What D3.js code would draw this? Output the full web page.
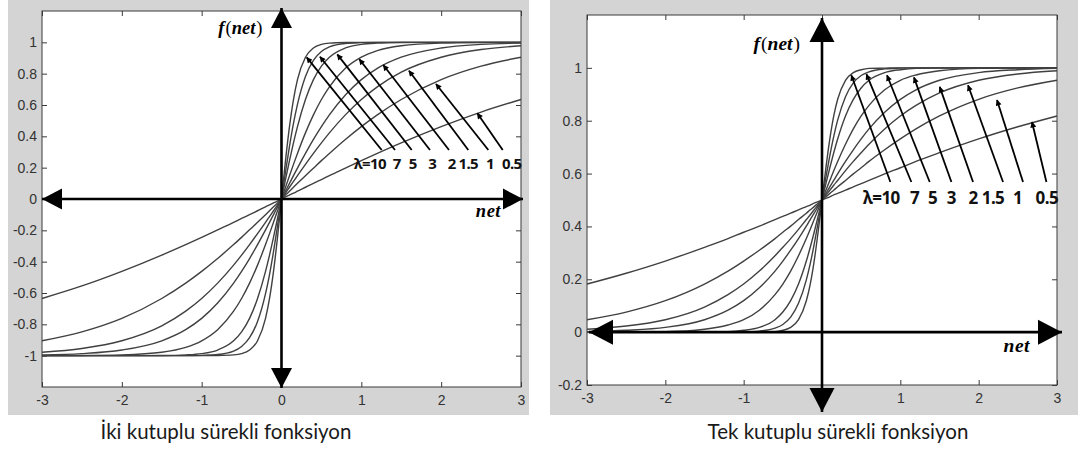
<!DOCTYPE html>
<html><head><meta charset="utf-8">
<script src="https://cdn.jsdelivr.net/npm/d3@7"></script>
<style>body{margin:0;background:#fff}svg{display:block}</style>
</head><body>
<svg id="c" width="1080" height="453"></svg>
<script>
// ---------------- data ----------------
const netValues = [-3,-2.5,-2,-1.5,-1.2,-1,-0.8,-0.6,-0.5,-0.4,-0.3,-0.2,-0.15,-0.1,-0.05,0,0.05,0.1,0.15,0.2,0.3,0.4,0.5,0.6,0.8,1,1.2,1.5,2,2.5,3];
const lambdaLabels = ["λ=10","7","5","3","2","1.5","1","0.5"];

const bipolar10 = [-1,-1,-1,-1,-1,-1,-0.999,-0.995,-0.987,-0.964,-0.905,-0.762,-0.635,-0.462,-0.245,0,0.245,0.462,0.635,0.762,0.905,0.964,0.987,0.995,0.999,1,1,1,1,1,1];
const bipolar7 = [-1,-1,-1,-1,-1,-0.998,-0.993,-0.971,-0.941,-0.885,-0.782,-0.604,-0.482,-0.336,-0.173,0,0.173,0.336,0.482,0.604,0.782,0.885,0.941,0.971,0.993,0.998,1,1,1,1,1];
const bipolar5 = [-1,-1,-1,-0.999,-0.995,-0.987,-0.964,-0.905,-0.848,-0.762,-0.635,-0.462,-0.358,-0.245,-0.124,0,0.124,0.245,0.358,0.462,0.635,0.762,0.848,0.905,0.964,0.987,0.995,0.999,1,1,1];
const bipolar3 = [-1,-0.999,-0.995,-0.978,-0.947,-0.905,-0.834,-0.716,-0.635,-0.537,-0.422,-0.291,-0.221,-0.149,-0.075,0,0.075,0.149,0.221,0.291,0.422,0.537,0.635,0.716,0.834,0.905,0.947,0.978,0.995,0.999,1];
const bipolar2 = [-0.995,-0.987,-0.964,-0.905,-0.834,-0.762,-0.664,-0.537,-0.462,-0.380,-0.291,-0.197,-0.149,-0.100,-0.050,0,0.050,0.100,0.149,0.197,0.291,0.380,0.462,0.537,0.664,0.762,0.834,0.905,0.964,0.987,0.995];
const bipolar15 = [-0.978,-0.954,-0.905,-0.810,-0.716,-0.635,-0.537,-0.422,-0.358,-0.291,-0.221,-0.149,-0.112,-0.075,-0.037,0,0.037,0.075,0.112,0.149,0.221,0.291,0.358,0.422,0.537,0.635,0.716,0.810,0.905,0.954,0.978];
const bipolar1 = [-0.905,-0.848,-0.762,-0.635,-0.537,-0.462,-0.380,-0.291,-0.245,-0.197,-0.149,-0.100,-0.075,-0.050,-0.025,0,0.025,0.050,0.075,0.100,0.149,0.197,0.245,0.291,0.380,0.462,0.537,0.635,0.762,0.848,0.905];
const bipolar05 = [-0.635,-0.555,-0.462,-0.358,-0.291,-0.245,-0.197,-0.149,-0.124,-0.100,-0.075,-0.050,-0.037,-0.025,-0.013,0,0.013,0.025,0.037,0.050,0.075,0.100,0.124,0.149,0.197,0.245,0.291,0.358,0.462,0.555,0.635];

const unipolar10 = [0,0,0,0,0,0,0.001,0.002,0.007,0.018,0.047,0.119,0.182,0.269,0.378,0.5,0.622,0.731,0.818,0.881,0.953,0.982,0.993,0.998,0.999,1,1,1,1,1,1];
const unipolar7 = [0,0,0,0,0,0.001,0.004,0.015,0.029,0.057,0.109,0.198,0.259,0.332,0.413,0.5,0.587,0.668,0.741,0.802,0.891,0.943,0.971,0.985,0.996,0.999,1,1,1,1,1];
const unipolar5 = [0,0,0,0.001,0.002,0.007,0.018,0.047,0.076,0.119,0.182,0.269,0.321,0.378,0.438,0.5,0.562,0.622,0.679,0.731,0.818,0.881,0.924,0.953,0.982,0.993,0.998,0.999,1,1,1];
const unipolar3 = [0,0.001,0.002,0.011,0.027,0.047,0.083,0.142,0.182,0.231,0.289,0.354,0.389,0.426,0.463,0.5,0.537,0.574,0.611,0.646,0.711,0.769,0.818,0.858,0.917,0.953,0.973,0.989,0.998,0.999,1];
const unipolar2 = [0.002,0.007,0.018,0.047,0.083,0.119,0.168,0.231,0.269,0.310,0.354,0.401,0.426,0.450,0.475,0.5,0.525,0.550,0.574,0.599,0.646,0.690,0.731,0.769,0.832,0.881,0.917,0.953,0.982,0.993,0.998];
const unipolar15 = [0.011,0.023,0.047,0.095,0.142,0.182,0.231,0.289,0.321,0.354,0.389,0.426,0.444,0.463,0.481,0.5,0.519,0.537,0.556,0.574,0.611,0.646,0.679,0.711,0.769,0.818,0.858,0.905,0.953,0.977,0.989];
const unipolar1 = [0.047,0.076,0.119,0.182,0.231,0.269,0.310,0.354,0.378,0.401,0.426,0.450,0.463,0.475,0.488,0.5,0.512,0.525,0.537,0.550,0.574,0.599,0.622,0.646,0.690,0.731,0.769,0.818,0.881,0.924,0.953];
const unipolar05 = [0.182,0.223,0.269,0.321,0.354,0.378,0.401,0.426,0.438,0.450,0.463,0.475,0.481,0.488,0.494,0.5,0.506,0.512,0.519,0.525,0.537,0.550,0.562,0.574,0.599,0.622,0.646,0.679,0.731,0.777,0.818];

const xTicks = [-3,-2,-1,0,1,2,3];
const yTicksBipolar = [-1,-0.8,-0.6,-0.4,-0.2,0,0.2,0.4,0.6,0.8,1];
const yTicksUnipolar = [-0.2,0,0.2,0.4,0.6,0.8,1];

// annotation arrows (data coordinates), order matches lambdaLabels
const bipHeadX = [0.316,0.482,0.699,0.975,1.275,1.597,1.935,2.453];
const bipHeadY = [0.904,0.908,0.923,0.892,0.855,0.819,0.734,0.547];
const bipTailX = [1.255,1.422,1.631,1.860,2.098,2.340,2.591,2.771];
const bipTailY = [0.313,0.313,0.313,0.313,0.313,0.313,0.313,0.313];
const bipLabelX = [1.109,1.443,1.644,1.889,2.132,2.340,2.612,2.884];
const bipLabelY = 0.19;

const uniHeadX = [0.375,0.567,0.830,1.174,1.503,1.864,2.234,2.681];
const uniHeadY = [0.972,0.976,0.972,0.964,0.928,0.934,0.878,0.795];
const uniTailX = [0.873,1.141,1.375,1.652,1.928,2.311,2.566,2.865];
const uniTailY = [0.568,0.568,0.568,0.568,0.568,0.568,0.568,0.568];
const uniLabelX = [0.758,1.183,1.413,1.652,1.928,2.183,2.498,2.87];
const uniLabelY = 0.484;

const captions = ["İki kutuplu sürekli fonksiyon","Tek kutuplu sürekli fonksiyon"];

// ---------------- drawing ----------------
const svg = d3.select("#c");
const defs = svg.append("defs");
defs.append("marker").attr("id","ah").attr("viewBox","0 0 10 10")
  .attr("refX",9).attr("refY",5).attr("markerWidth",7).attr("markerHeight",6)
  .attr("markerUnits","userSpaceOnUse").attr("orient","auto")
  .append("path").attr("d","M0,0L10,5L0,10Z").attr("fill","#000");

function tri(g, tipX, tipY, dir, len, half){
  let p;
  if(dir==="left") p=[[tipX,tipY],[tipX+len,tipY-half],[tipX+len,tipY+half]];
  if(dir==="right") p=[[tipX,tipY],[tipX-len,tipY-half],[tipX-len,tipY+half]];
  if(dir==="up") p=[[tipX,tipY],[tipX-half,tipY+len],[tipX+half,tipY+len]];
  if(dir==="down") p=[[tipX,tipY],[tipX-half,tipY-len],[tipX+half,tipY-len]];
  g.append("path").attr("d","M"+p.map(d=>d.join(",")).join("L")+"Z").attr("fill","#000");
}

function panel(o){
  const g = svg.append("g");
  g.append("rect").attr("x",o.bg[0]).attr("y",o.bg[1]).attr("width",o.bg[2]).attr("height",o.bg[3]).attr("fill","#d4d4d4");
  const x = d3.scaleLinear().domain([-3,3]).range([o.box[0],o.box[2]]);
  const y = d3.scaleLinear().domain(o.yDomain).range([o.box[3],o.box[1]]);
  g.append("rect").attr("x",o.box[0]).attr("y",o.box[1]).attr("width",o.box[2]-o.box[0]).attr("height",o.box[3]-o.box[1])
    .attr("fill","#fff").attr("stroke","#3a3a3a").attr("stroke-width",1);

  const fmt = d => String(d);
  const styleAxis = a => { a.select(".domain").remove(); a.selectAll(".tick line").attr("stroke","#3a3a3a");
    a.selectAll("text").attr("fill","#333").style("font-family","'Liberation Sans',Arial,sans-serif").style("font-size","14px"); };
  g.append("g").attr("transform",`translate(0,${o.box[3]})`).call(d3.axisBottom(x).tickValues(xTicks).tickSize(-5).tickPadding(8).tickFormat(fmt)).call(styleAxis);
  g.append("g").attr("transform",`translate(0,${o.box[1]})`).call(d3.axisTop(x).tickValues(xTicks).tickSize(-5).tickFormat("")).call(styleAxis);
  g.append("g").attr("transform",`translate(${o.box[0]},0)`).call(d3.axisLeft(y).tickValues(o.yTicks).tickSize(-5).tickPadding(5).tickFormat(fmt)).call(styleAxis);
  g.append("g").attr("transform",`translate(${o.box[2]},0)`).call(d3.axisRight(y).tickValues(o.yTicks).tickSize(-5).tickFormat("")).call(styleAxis);

  const line = d3.line().x((d,i)=>x(netValues[i])).y(d=>y(d)).curve(d3.curveMonotoneX);
  g.selectAll("path.curve").data(o.series).join("path").attr("class","curve")
    .attr("d",line).attr("fill","none").attr("stroke","#404040").attr("stroke-width",1.4);

  // axis cross
  const y0 = y(0), x0 = x(0);
  g.append("line").attr("x1",o.hx[0]).attr("x2",o.hx[1]).attr("y1",y0).attr("y2",y0).attr("stroke","#000").attr("stroke-width",2.6);
  g.append("line").attr("x1",x0).attr("x2",x0).attr("y1",o.vy[0]).attr("y2",o.vy[1]).attr("stroke","#000").attr("stroke-width",2.6);
  tri(g,o.hx[0],y0,"left",o.ah[0],o.ah[1]);
  tri(g,o.hx[1],y0,"right",o.ah[0],o.ah[1]);
  tri(g,x0,o.vy[0],"up",o.ah[0],o.ah[1]);
  tri(g,x0,o.vy[1],"down",o.ah[0],o.ah[1]);

  // labels f(net), net
  const ft = g.append("text").attr("x",x0-o.fOff[0]).attr("y",o.box[1]+o.fOff[1]).attr("text-anchor","end")
    .style("font-family","'Liberation Serif','DejaVu Serif',serif").style("font-size",o.axFont+"px").attr("fill","#000");
  ft.append("tspan").text("f").style("font-style","italic").style("font-weight","bold");
  ft.append("tspan").text("(").attr("dx",1);
  ft.append("tspan").text("net").style("font-style","italic").style("font-weight","bold");
  ft.append("tspan").text(")").attr("dx",1);
  g.append("text").attr("x",o.netPos[0]).attr("y",y0+o.netPos[1]).attr("text-anchor","end")
    .style("font-family","'Liberation Serif','DejaVu Serif',serif").style("font-size",o.axFont+"px")
    .style("font-style","italic").style("font-weight","bold").style("letter-spacing","0.5px").text("net");

  // annotations
  lambdaLabels.forEach((lab,i)=>{
    g.append("line").attr("x1",x(o.tailX[i])).attr("y1",y(o.tailY[i])).attr("x2",x(o.headX[i])).attr("y2",y(o.headY[i]))
      .attr("stroke","#000").attr("stroke-width",1.8).attr("marker-end","url(#ah)");
    g.append("text").attr("x",x(o.labelX[i])).attr("y",y(o.labelY)).attr("text-anchor","middle")
      .style("font-family","'Noto Sans',sans-serif").style("font-weight","bold").style("font-size",o.labFont+"px")
      .style("letter-spacing","-0.6px").attr("fill","#111").text(lab);
  });

  g.append("text").attr("x",o.cap[0]).attr("y",o.cap[1]).attr("text-anchor","middle")
    .style("font-family","Lato,'Open Sans',sans-serif").style("font-size","20.5px").attr("fill","#1a1a1a").text(o.caption);
}

panel({
  bg:[8,0,521,415], box:[42,11,521,387], yDomain:[-1.2,1.2], yTicks:yTicksBipolar,
  series:[bipolar10,bipolar7,bipolar5,bipolar3,bipolar2,bipolar15,bipolar1,bipolar05],
  hx:[42,523], vy:[8,388], ah:[20,10.5], fOff:[19,23], netPos:[501,18], axFont:18.5, labFont:15,
  headX:bipHeadX, headY:bipHeadY, tailX:bipTailX, tailY:bipTailY, labelX:bipLabelX, labelY:bipLabelY,
  cap:[226,439], caption:captions[0]
});
panel({
  bg:[550,0,528,415], box:[587,15,1057,385], yDomain:[-0.2,1.2], yTicks:yTicksUnipolar,
  series:[unipolar10,unipolar7,unipolar5,unipolar3,unipolar2,unipolar15,unipolar1,unipolar05],
  hx:[589,1062], vy:[18,412], ah:[24,12.5], fOff:[22,35], netPos:[1030,20], axFont:19.5, labFont:17,
  headX:uniHeadX, headY:uniHeadY, tailX:uniTailX, tailY:uniTailY, labelX:uniLabelX, labelY:uniLabelY,
  cap:[838,439], caption:captions[1]
});
</script>
</body></html>
